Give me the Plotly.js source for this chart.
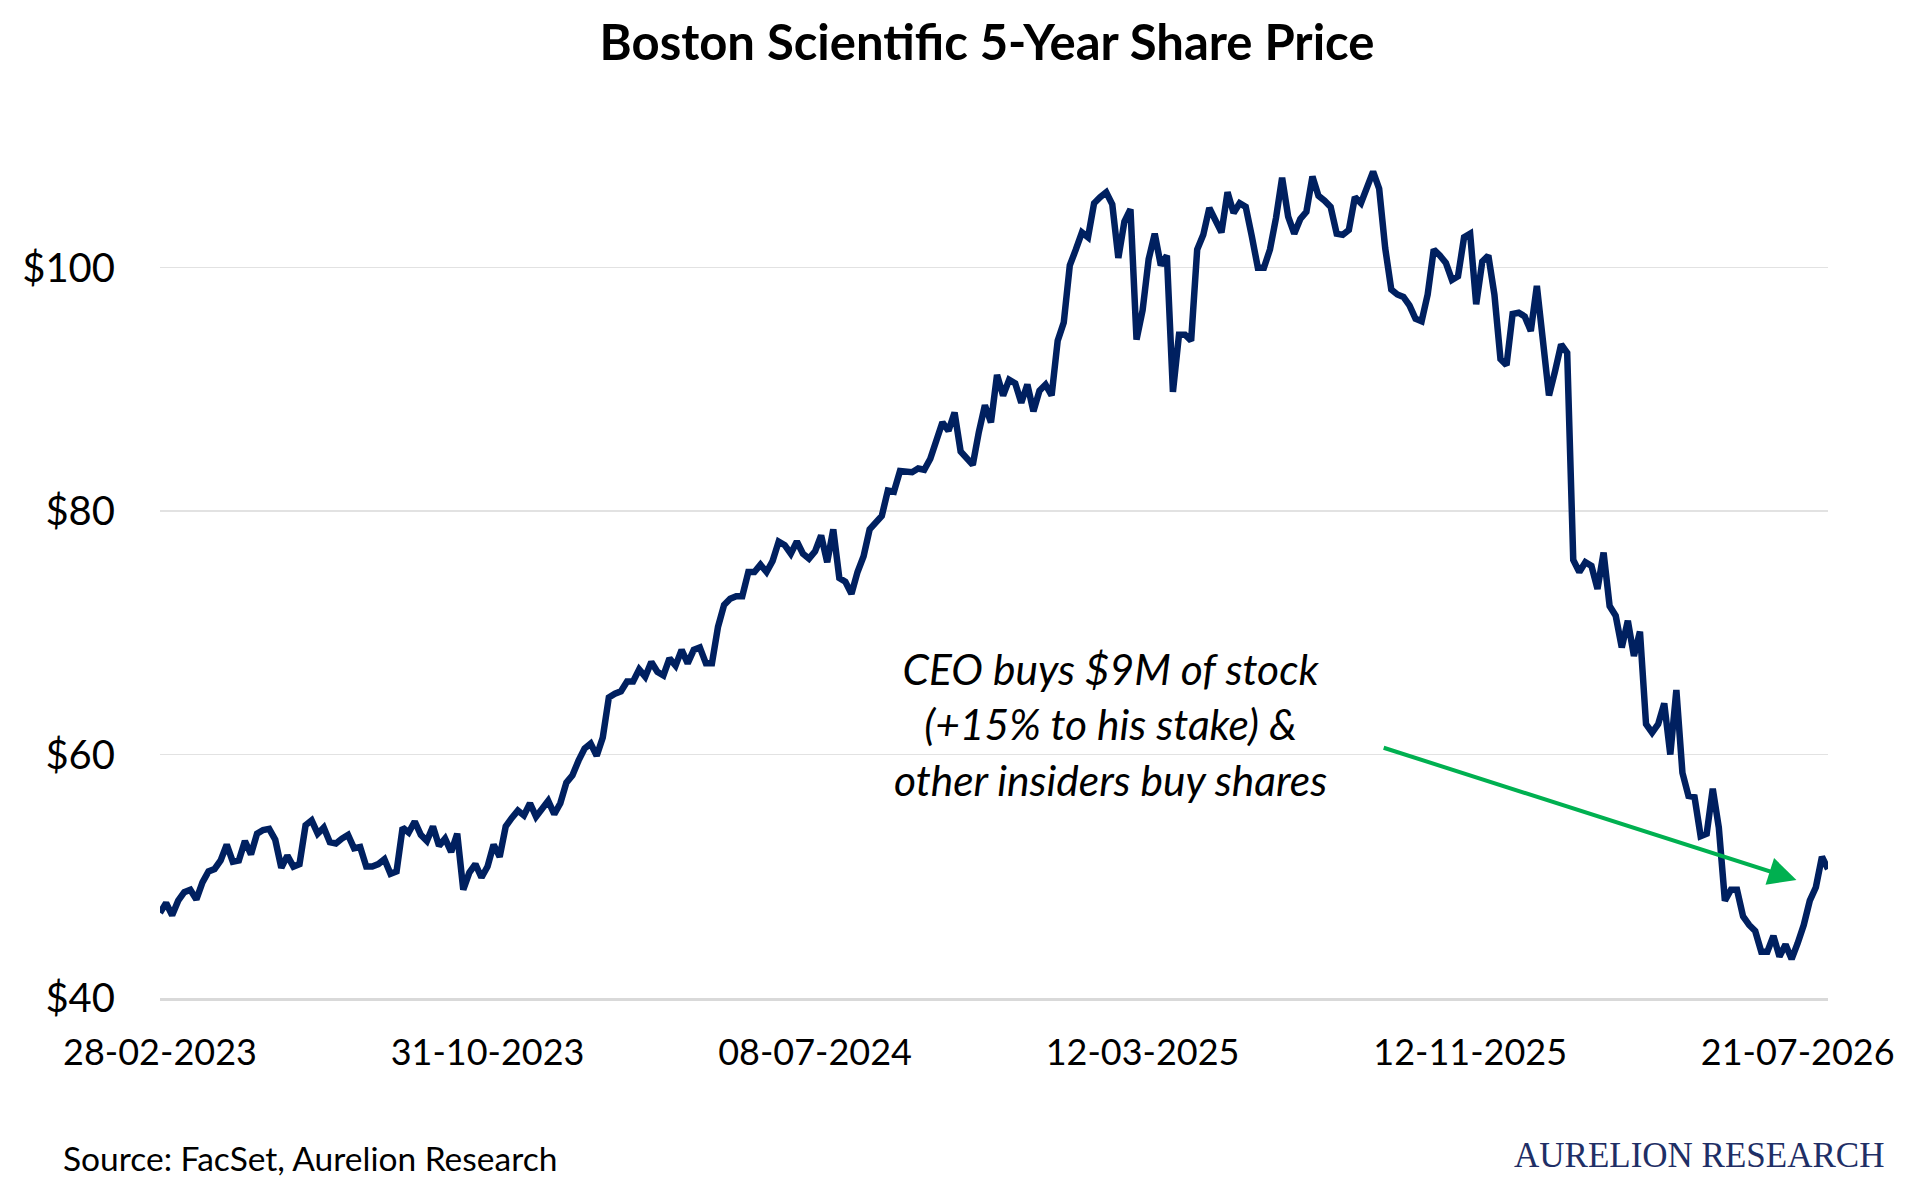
<!DOCTYPE html>
<html>
<head>
<meta charset="utf-8">
<script src="https://cdn.plot.ly/plotly-3.0.1.min.js"></script>
<style>
  html, body { margin: 0; padding: 0; background: #ffffff; }
  #plot { width: 1913px; height: 1191px; }
</style>
</head>
<body>
<div id="plot"></div>
<script>
// Share price, one point per ~3 trading days.
const tick_labels = ['28-02-2023', '31-10-2023', '08-07-2024', '12-03-2025', '12-11-2025', '21-07-2026'];
const tick_every = 54;

const price = [
  47.0, 47.8, 46.8, 48.0, 48.7, 48.9, 48.1, 49.5, 50.4, 50.6,
  51.3, 52.6, 51.2, 51.3, 52.9, 51.8, 53.5, 53.8, 53.9, 53.0,
  50.7, 51.7, 50.8, 51.0, 54.2, 54.6, 53.5, 54.0, 52.8, 52.7,
  53.1, 53.4, 52.3, 52.4, 50.8, 50.8, 51.0, 51.4, 50.2, 50.4,
  54.0, 53.6, 54.5, 53.4, 52.9, 54.1, 52.5, 53.1, 52.0, 53.5,
  48.9, 50.3, 51.0, 49.9, 50.8, 52.6, 51.6, 54.1, 54.8, 55.4,
  55.0, 56.0, 54.9, 55.6, 56.2, 55.1, 56.0, 57.7, 58.3, 59.5,
  60.5, 60.9, 59.9, 61.4, 64.7, 65.0, 65.2, 66.0, 66.0, 67.0,
  66.4, 67.6, 66.8, 66.5, 67.9, 67.3, 68.6, 67.5, 68.6, 68.8,
  67.5, 67.5, 70.5, 72.3, 72.8, 73.0, 73.0, 75.0, 75.0, 75.6,
  75.0, 75.9, 77.5, 77.2, 76.5, 77.5, 76.5, 76.1, 76.7, 78.0,
  75.8, 78.5, 74.5, 74.2, 73.2, 75.0, 76.3, 78.5, 79.1, 79.6,
  81.7, 81.6, 83.3, 83.2, 83.2, 83.5, 83.4, 84.3, 86.0, 87.3,
  86.6, 88.1, 84.9, 84.4, 83.8, 86.5, 88.7, 87.3, 91.2, 89.5,
  90.8, 90.5, 88.9, 90.4, 88.2, 89.9, 90.4, 89.5, 94.0, 95.5,
  100.2, 101.5, 102.9, 102.5, 105.3, 105.8, 106.2, 105.2, 100.8, 103.8,
  104.8, 94.1, 96.5, 100.7, 102.8, 100.2, 101.0, 89.8, 94.5, 94.5,
  94.0, 101.5, 102.7, 104.9, 104.0, 102.9, 106.2, 104.5, 105.3, 105.0,
  102.6, 100.0, 100.0, 101.5, 104.1, 107.4, 104.2, 102.8, 104.0, 104.6,
  107.5, 105.9, 105.5, 105.0, 102.8, 102.7, 103.1, 105.8, 105.3, 106.5,
  107.9, 106.5, 101.6, 98.2, 97.8, 97.6, 96.9, 95.8, 95.6, 97.8,
  101.5, 101.0, 100.4, 99.0, 99.3, 102.5, 102.8, 97.0, 100.5, 101.0,
  97.8, 92.5, 92.0, 96.2, 96.3, 96.0, 94.8, 98.5, 94.2, 89.5,
  91.5, 93.7, 93.0, 76.0, 75.0, 75.8, 75.5, 73.6, 76.6, 72.2,
  71.4, 68.8, 71.0, 68.1, 70.1, 62.5, 61.8, 62.5, 64.2, 60.0,
  65.3, 58.5, 56.6, 56.5, 53.3, 53.5, 57.2, 54.0, 48.0, 48.9,
  48.9, 46.7, 46.0, 45.5, 43.8, 43.8, 45.1, 43.4, 44.4, 43.2,
  44.5, 46.0, 48.0, 49.1, 51.6, 50.6
];

const y_ticks = [40, 60, 80, 100];

// arrow from the note down to the recent lows (tail -> head, in data units)
const arrow_tail = { x: 201.5, y: 60.6 };
const arrow_head = { x: 269.8, y: 49.7 };

const W = 1913, H = 1191;
const margin = { l: 160, r: 85, t: 146, b: 193 };
const plot_w = W - margin.l - margin.r;
const plot_h = H - margin.t - margin.b;
const paper_x = px => (px - margin.l) / plot_w;
const paper_y = py => (H - margin.b - py) / plot_h;

const base_font = 'Lato, "Open Sans", sans-serif';
const navy = '#002060';

const trace = {
    x: price.map((_, i) => i),
    y: price,
    type: 'scatter',
    mode: 'lines',
    line: { color: navy, width: 6.5, shape: 'linear' },
    hoverinfo: 'skip'
};

const tick_vals = tick_labels.map((_, i) => i * tick_every);

const layout = {
    width: W,
    height: H,
    margin: margin,
    paper_bgcolor: '#ffffff',
    plot_bgcolor: '#ffffff',
    showlegend: false,
    title: {
        text: '<b>Boston Scientific 5-Year Share Price</b>',
        font: { family: base_font, size: 49, color: '#000000' },
        xref: 'container', x: 987 / W, xanchor: 'center',
        yref: 'container', y: 1 - 43 / H, yanchor: 'middle'
    },
    xaxis: {
        range: [0, price.length - 1],
        tickmode: 'array',
        tickvals: tick_vals,
        ticktext: tick_labels,
        showgrid: false,
        zeroline: false,
        showline: true,
        linecolor: '#d9d9d9',
        linewidth: 3,
        ticks: 'outside',
        ticklen: 21,
        tickcolor: 'rgba(0,0,0,0)',
        tickfont: { family: base_font, size: 36, color: '#000000' },
        fixedrange: true
    },
    yaxis: {
        range: [40, 110],
        tickmode: 'array',
        tickvals: y_ticks,
        ticktext: y_ticks.map(v => '$' + v),
        showgrid: true,
        gridcolor: '#e2e2e2',
        gridwidth: 1.5,
        zeroline: false,
        showline: false,
        ticks: 'outside',
        ticklen: 36,
        tickcolor: 'rgba(0,0,0,0)',
        tickfont: { family: base_font, size: 40, color: '#000000' },
        fixedrange: true
    },
    annotations: [
        {
            xref: 'paper', yref: 'paper',
            x: paper_x(1110), y: paper_y(724),
            xanchor: 'center', yanchor: 'middle',
            text: 'CEO buys $9M of stock<br>(+15% to his stake) &amp;<br>other insiders buy shares',
            showarrow: false,
            align: 'center',
            font: { family: base_font, size: 42.5, color: '#000000', style: 'italic' }
        },
        {
            x: arrow_head.x, y: arrow_head.y, xref: 'x', yref: 'y',
            ax: arrow_tail.x, ay: arrow_tail.y, axref: 'x', ayref: 'y',
            text: '',
            showarrow: true,
            arrowhead: 2,
            arrowsize: 1.4,
            arrowwidth: 4,
            arrowcolor: '#00b050'
        },
        {
            xref: 'paper', yref: 'paper',
            x: paper_x(61), y: paper_y(1158),
            xanchor: 'left', yanchor: 'middle',
            text: 'Source: FacSet, Aurelion Research',
            showarrow: false,
            font: { family: base_font, size: 33.5, color: '#000000' }
        },
        {
            xref: 'paper', yref: 'paper',
            x: paper_x(1886), y: paper_y(1155),
            xanchor: 'right', yanchor: 'middle',
            text: 'AURELION RESEARCH',
            showarrow: false,
            font: { family: '"Liberation Serif", "DejaVu Serif", serif', size: 35, color: '#1f2f66' }
        }
    ]
};

const config = { staticPlot: true, displaylogo: false, responsive: false };

Plotly.newPlot('plot', [trace], layout, config);
</script>
</body>
</html>
